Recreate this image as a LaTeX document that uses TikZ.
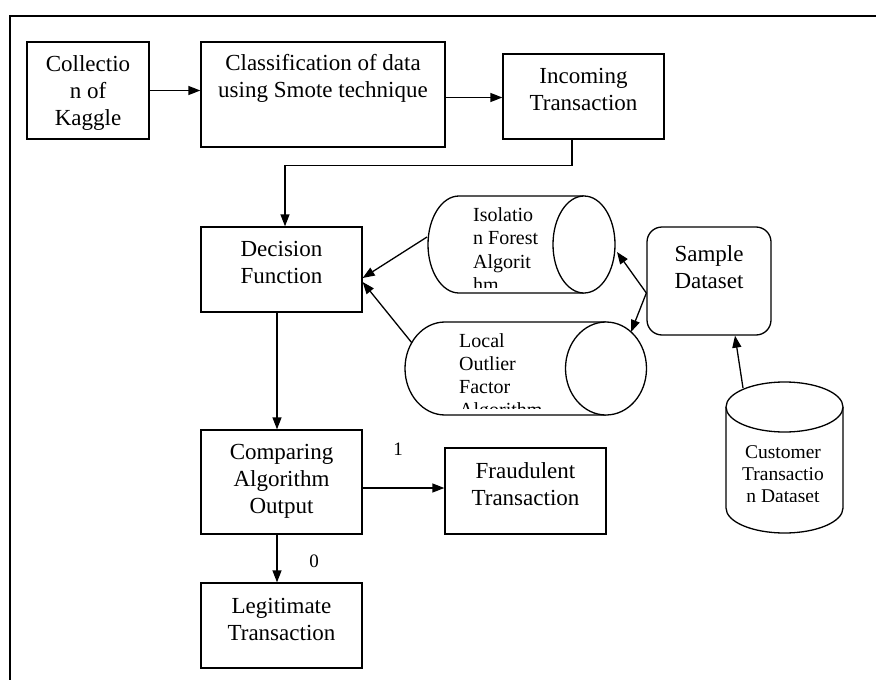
\documentclass[tikz,border=0pt]{standalone}
\usepackage{fontspec}
\setmainfont{Liberation Serif}
\usetikzlibrary{arrows.meta}
\begin{document}
\begin{tikzpicture}[x=1pt,y=-1pt,
  box/.style={draw, line width=1.3pt, inner sep=0pt, fill=white},
  rbox/.style={box, rounded corners=15pt},
  txt/.style={font=\fontsize{23}{27}\selectfont, align=center, inner sep=0pt, anchor=base},
  ctxt/.style={font=\fontsize{20}{23.5}\selectfont, align=left, inner sep=0pt, anchor=base west},
  dtxt/.style={font=\fontsize{19.5}{22}\selectfont, align=center, inner sep=0pt, anchor=base},
  lbl/.style={font=\fontsize{19}{21}\selectfont, inner sep=0pt, anchor=base},
  cyl/.style={draw, line width=1.3pt, fill=white},
  arr/.style={draw, line width=1.3pt, -{Triangle[length=12pt,width=9pt]}},
  frame/.style={draw, line width=2pt}]
\useasboundingbox (0,0) rectangle (876,680);
\fill[white] (0,0) rectangle (876,680);
\draw[frame] (876,16) -- (10,16) -- (10,680);

% boxes (text nodes are placed by the baseline of their last line)
\node[box, minimum width=122pt, minimum height=97pt] (coll) at (88,90.5) {};
\node[txt] (collt) at (88,125) {Collectio\\n of\\Kaggle};
\node[box, minimum width=244pt, minimum height=105pt] (cls) at (323,94.5) {};
\node[txt] (clst) at (323,97.5) {Classification of data\\using Smote technique};
\node[box, minimum width=161pt, minimum height=85pt] (inc) at (583.5,96.5) {};
\node[txt] (inct) at (583.5,110) {Incoming\\Transaction};
\node[box, minimum width=161pt, minimum height=85pt] (dec) at (281.5,269.5) {};
\node[txt] (dect) at (281.5,283) {Decision\\Function};
\node[box, minimum width=161pt, minimum height=104pt] (cmp) at (281.5,482) {};
\node[txt] (cmpt) at (281.5,513) {Comparing\\Algorithm\\Output};
\node[box, minimum width=161pt, minimum height=86pt] (frd) at (525.5,491) {};
\node[txt] (frdt) at (525.5,505) {Fraudulent\\Transaction};
\node[box, minimum width=161pt, minimum height=85pt] (leg) at (281.5,625.5) {};
\node[txt] (legt) at (281.5,640) {Legitimate\\Transaction};
\node[rbox, minimum width=124pt, minimum height=108pt] (samp) at (709,281) {};
\node[txt] (sampt) at (709,288) {Sample\\Dataset};

% Isolation Forest cylinder (horizontal)
\path[cyl] (584,196) -- (459,196) arc[start angle=-90, end angle=-270, x radius=31, y radius=48.5] -- (584,293);
\draw[cyl] (584,244.5) ellipse[x radius=31, y radius=48.5];
\begin{scope}
\clip (430,196) rectangle (553,287);
\node[ctxt] (isot) at (473,291.5) {Isolatio\\n Forest\\Algorit\\hm};
\end{scope}

% Local Outlier Factor cylinder (horizontal)
\path[cyl] (606,322) -- (445,322) arc[start angle=-90, end angle=-270, x radius=40, y radius=46.5] -- (606,415);
\draw[cyl] (606,368.5) ellipse[x radius=40.5, y radius=46.5];
\begin{scope}
\clip (407,322) rectangle (566,408);
\node[ctxt, font=\fontsize{20}{23}\selectfont] (loft) at (459,416) {Local\\Outlier\\Factor\\Algorithm};
\end{scope}

% Customer Transaction Dataset cylinder (vertical)
\path[cyl] (726,407) -- (726,508) arc[start angle=180, end angle=0, x radius=58.5, y radius=25] -- (843,407);
\draw[cyl] (784.5,407) ellipse[x radius=58.5, y radius=25];
\begin{scope}
\clip (728,433) rectangle (841,501);
\node[dtxt] (cust) at (783,502) {Customer\\Transactio\\n Dataset};
\end{scope}

% connector end points on the cylinders
\coordinate (isoL) at (427,237);
\coordinate (isoR) at (617,252);
\coordinate (lofL) at (412,343);
\coordinate (lofR) at (631,332);
\coordinate (custT) at (743,388);

% connectors
\draw[arr] (coll.east) -- (coll.east -| cls.west);
\draw[arr] ([yshift=-3pt]cls.east) -- ([yshift=-3pt]cls.east -| inc.west);
\draw[arr] ([xshift=-11.5pt]inc.south) -- ++(0,26) -| ([xshift=3.5pt]dec.north);
\draw[arr] (isoL) -- ([yshift=-8.5pt]dec.east);
\draw[arr] (lofL) -- ([yshift=-12.5pt]dec.east);
\draw[arr] ([yshift=-12pt]samp.west) -- (isoR);
\draw[arr] ([yshift=-12pt]samp.west) -- (lofR);
\draw[arr] (custT) -- ([xshift=26pt]samp.south);
\draw[arr] ([xshift=-4.5pt]dec.south) -- ([xshift=-4.5pt]cmp.north);
\draw[arr] ([yshift=-6pt]cmp.east) -- ([yshift=-6pt]cmp.east -| frd.west);
\draw[arr] ([xshift=-4.5pt]cmp.south) -- ([xshift=-4.5pt]leg.north);

% edge labels
\node[lbl] (one) at (398,455) {1};
\node[lbl] (zero) at (314,567) {0};
\end{tikzpicture}
\end{document}
